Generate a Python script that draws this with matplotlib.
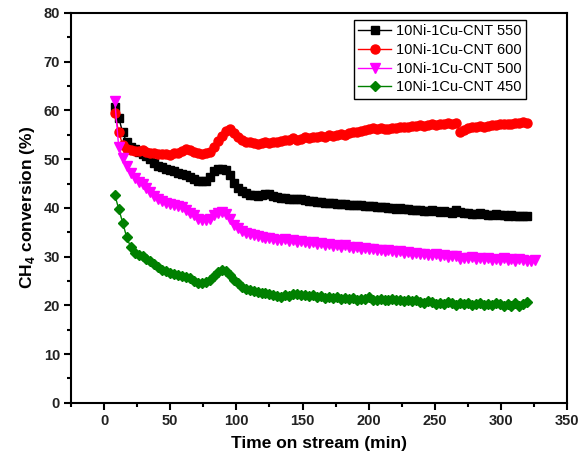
import numpy as np
import matplotlib.pyplot as plt

plt.rcParams['font.family'] = ['Liberation Sans', 'DejaVu Sans']
plt.rcParams['mathtext.fontset'] = 'custom'
plt.rcParams['mathtext.rm'] = 'Liberation Sans'
plt.rcParams['mathtext.bf'] = 'Liberation Sans:bold'

# tempo de amostragem (min)
t = [8, 11, 14, 17, 20, 23, 26, 29, 32, 35,
     38, 41, 44, 47, 50, 53, 56, 59, 62, 65,
     68, 71, 74, 77, 80, 83, 86, 89, 92, 95,
     98, 101, 104, 107, 110, 113, 116, 119, 122, 125,
     128, 131, 134, 137, 140, 143, 146, 149, 152, 155,
     158, 161, 164, 167, 170, 173, 176, 179, 182, 185,
     188, 191, 194, 197, 200, 203, 206, 209, 212, 215,
     218, 221, 224, 227, 230, 233, 236, 239, 242, 245,
     248, 251, 254, 257, 260, 263, 266, 269, 272, 275,
     278, 281, 284, 287, 290, 293, 296, 299, 302, 305,
     308, 311, 314, 317, 320]
t_500 = t + [323, 326]

c550 = [60.8, 58.5, 55.5, 53.5, 52.5, 52.0, 51.5, 51.0, 50.6, 50.0,
        49.2, 48.6, 48.3, 48.0, 47.8, 47.5, 47.2, 46.9, 46.8, 46.3,
        46.0, 45.6, 45.5, 45.6, 46.3, 47.5, 48.0, 48.0, 47.8, 46.8,
        45.2, 44.0, 43.4, 43.0, 42.7, 42.6, 42.5, 42.7, 42.8, 42.9,
        42.5, 42.2, 42.0, 42.0, 41.9, 41.8, 41.9, 41.8, 41.6, 41.4,
        41.5, 41.3, 41.2, 41.0, 41.1, 41.0, 40.9, 40.9, 40.7, 40.6,
        40.5, 40.6, 40.5, 40.4, 40.3, 40.4, 40.2, 40.1, 40.1, 40.0,
        40.0, 39.8, 39.9, 39.7, 39.8, 39.6, 39.5, 39.6, 39.4, 39.4,
        39.5, 39.3, 39.2, 39.3, 39.2, 39.0, 39.6, 39.2, 38.9, 38.9,
        38.8, 38.8, 38.9, 38.7, 38.6, 38.6, 38.7, 38.5, 38.5, 38.4,
        38.5, 38.4, 38.3, 38.3, 38.3]

c600 = [59.5, 55.5, 53.0, 52.0, 51.8, 51.6, 51.7, 51.8, 51.5, 51.3,
        51.2, 51.0, 51.0, 51.1, 50.9, 51.2, 51.3, 51.6, 52.0, 51.8,
        51.4, 51.2, 51.0, 51.2, 51.5, 52.5, 53.8, 54.8, 55.8, 56.2,
        55.4, 54.5, 54.0, 53.6, 53.5, 53.4, 53.2, 53.4, 53.5, 53.4,
        53.6, 53.5, 53.7, 53.9, 54.0, 54.3, 54.0, 54.2, 54.5, 54.4,
        54.6, 54.5, 54.8, 54.6, 54.9, 54.7, 55.0, 55.2, 55.0, 55.3,
        55.5, 55.6, 55.8, 55.9, 56.2, 56.4, 56.2, 56.3, 56.1, 56.2,
        56.4, 56.3, 56.5, 56.7, 56.6, 56.8, 56.9, 57.0, 56.9, 57.1,
        57.2, 57.1, 57.3, 57.2, 57.4, 57.3, 57.5, 55.6, 56.0, 56.3,
        56.5, 56.6, 56.8, 56.7, 56.9, 57.0, 57.1, 57.2, 57.2, 57.3,
        57.3, 57.5, 57.4, 57.6, 57.5]

c500 = [62.0, 52.5, 50.3, 48.5, 47.2, 46.2, 45.4, 44.8, 44.0, 43.2,
        42.5, 41.8, 41.4, 41.0, 40.8, 40.6, 40.3, 40.1, 39.6, 39.0,
        38.5, 37.8, 37.5, 37.6, 37.8, 38.5, 39.0, 39.2, 38.8, 37.8,
        36.5, 35.8, 35.2, 34.9, 34.6, 34.4, 34.3, 34.1, 33.9, 33.8,
        33.6, 33.5, 33.4, 33.6, 33.3, 33.5, 33.0, 33.2, 32.9, 32.8,
        33.0, 32.6, 32.8, 32.4, 32.5, 32.2, 32.4, 32.0, 32.3, 31.9,
        31.8, 32.0, 31.6, 31.7, 31.5, 31.6, 31.3, 31.4, 31.2, 31.3,
        31.1, 31.0, 31.2, 30.8, 30.9, 30.6, 30.8, 30.5, 30.6, 30.3,
        30.4, 30.5, 30.2, 30.3, 30.0, 30.2, 30.1, 29.6, 29.8, 29.7,
        29.9, 29.6, 29.8, 29.5, 29.7, 29.4, 29.6, 29.3, 29.7, 29.4,
        29.6, 29.2, 29.5, 29.3, 29.1, 29.2, 29.4]

c450 = [42.7, 39.8, 37.0, 34.0, 32.0, 30.8, 30.4, 30.2, 29.6, 29.0,
        28.4, 27.8, 27.3, 27.0, 26.6, 26.4, 26.2, 26.0, 25.8, 25.6,
        25.0, 24.6, 24.5, 24.8, 25.3, 26.0, 26.8, 27.3, 27.0, 26.2,
        25.3, 24.5, 23.8, 23.4, 23.2, 22.9, 22.8, 22.6, 22.5, 22.3,
        22.2, 22.0, 21.8, 22.1, 21.9, 22.3, 22.4, 22.1, 22.2, 21.9,
        22.1, 21.8, 22.0, 21.6, 21.8, 21.5, 21.7, 21.4, 21.6, 21.4,
        21.5, 21.2, 21.4, 21.3, 21.8, 21.2, 21.0, 21.3, 21.1, 21.2,
        21.4, 21.0, 21.2, 20.9, 21.1, 20.8, 21.0, 20.7, 20.4, 20.8,
        20.6, 20.3, 20.5, 20.2, 20.6, 20.4, 20.1, 20.5, 20.2, 20.4,
        20.0, 20.3, 20.5, 20.1, 20.3, 20.0, 20.4, 20.2, 19.9, 20.3,
        19.8, 20.5, 19.9, 20.2, 20.7]

#------------------------------------
fig = plt.figure(figsize=(5.78, 4.63), dpi=100)
ax = fig.add_axes([0.123, 0.13, 0.858, 0.842])

ax.plot(t, c550, color='black', marker='s', ms=6, lw=1, label='10Ni-1Cu-CNT 550')
ax.plot(t, c600, color='red', marker='o', ms=6.5, lw=1, label='10Ni-1Cu-CNT 600')
ax.plot(t_500, c500, color='magenta', marker='v', ms=7, lw=1, label='10Ni-1Cu-CNT 500')
ax.plot(t, c450, color='green', marker='D', ms=5.5, lw=1, label='10Ni-1Cu-CNT 450')

ax.set_xlim(-25, 350)
ax.set_ylim(0, 80)
ax.set_xticks(np.arange(0, 351, 50))
ax.set_yticks(np.arange(0, 81, 10))
ax.set_xticks(np.arange(-25, 351, 50), minor=True)
ax.set_yticks(np.arange(5, 80, 10), minor=True)

for s in ax.spines.values():
    s.set_linewidth(1.5)
ax.tick_params(which='major', direction='out', length=5, width=1.5,
               labelsize=10.5, pad=3)
ax.tick_params(which='minor', direction='out', length=3, width=1.5)
for lb in ax.get_xticklabels() + ax.get_yticklabels():
    lb.set_fontweight('bold')
    lb.set_color('#222222')

ax.set_xlabel('Time on stream (min)', fontsize=12.5, fontweight='bold', labelpad=6)
ax.set_ylabel(r'CH$_\mathbf{4}$ conversion (%)', fontsize=12.5, fontweight='bold', labelpad=5)

leg = ax.legend(loc='upper right', bbox_to_anchor=(0.917, 0.982), fontsize=10.5,
                frameon=True, fancybox=False, edgecolor='black', framealpha=1,
                handlelength=2.3, handletextpad=0.3, borderpad=0.3,
                labelspacing=0.32, borderaxespad=0)
leg.get_frame().set_linewidth(1.0)

plt.savefig('out.png', dpi=100)
